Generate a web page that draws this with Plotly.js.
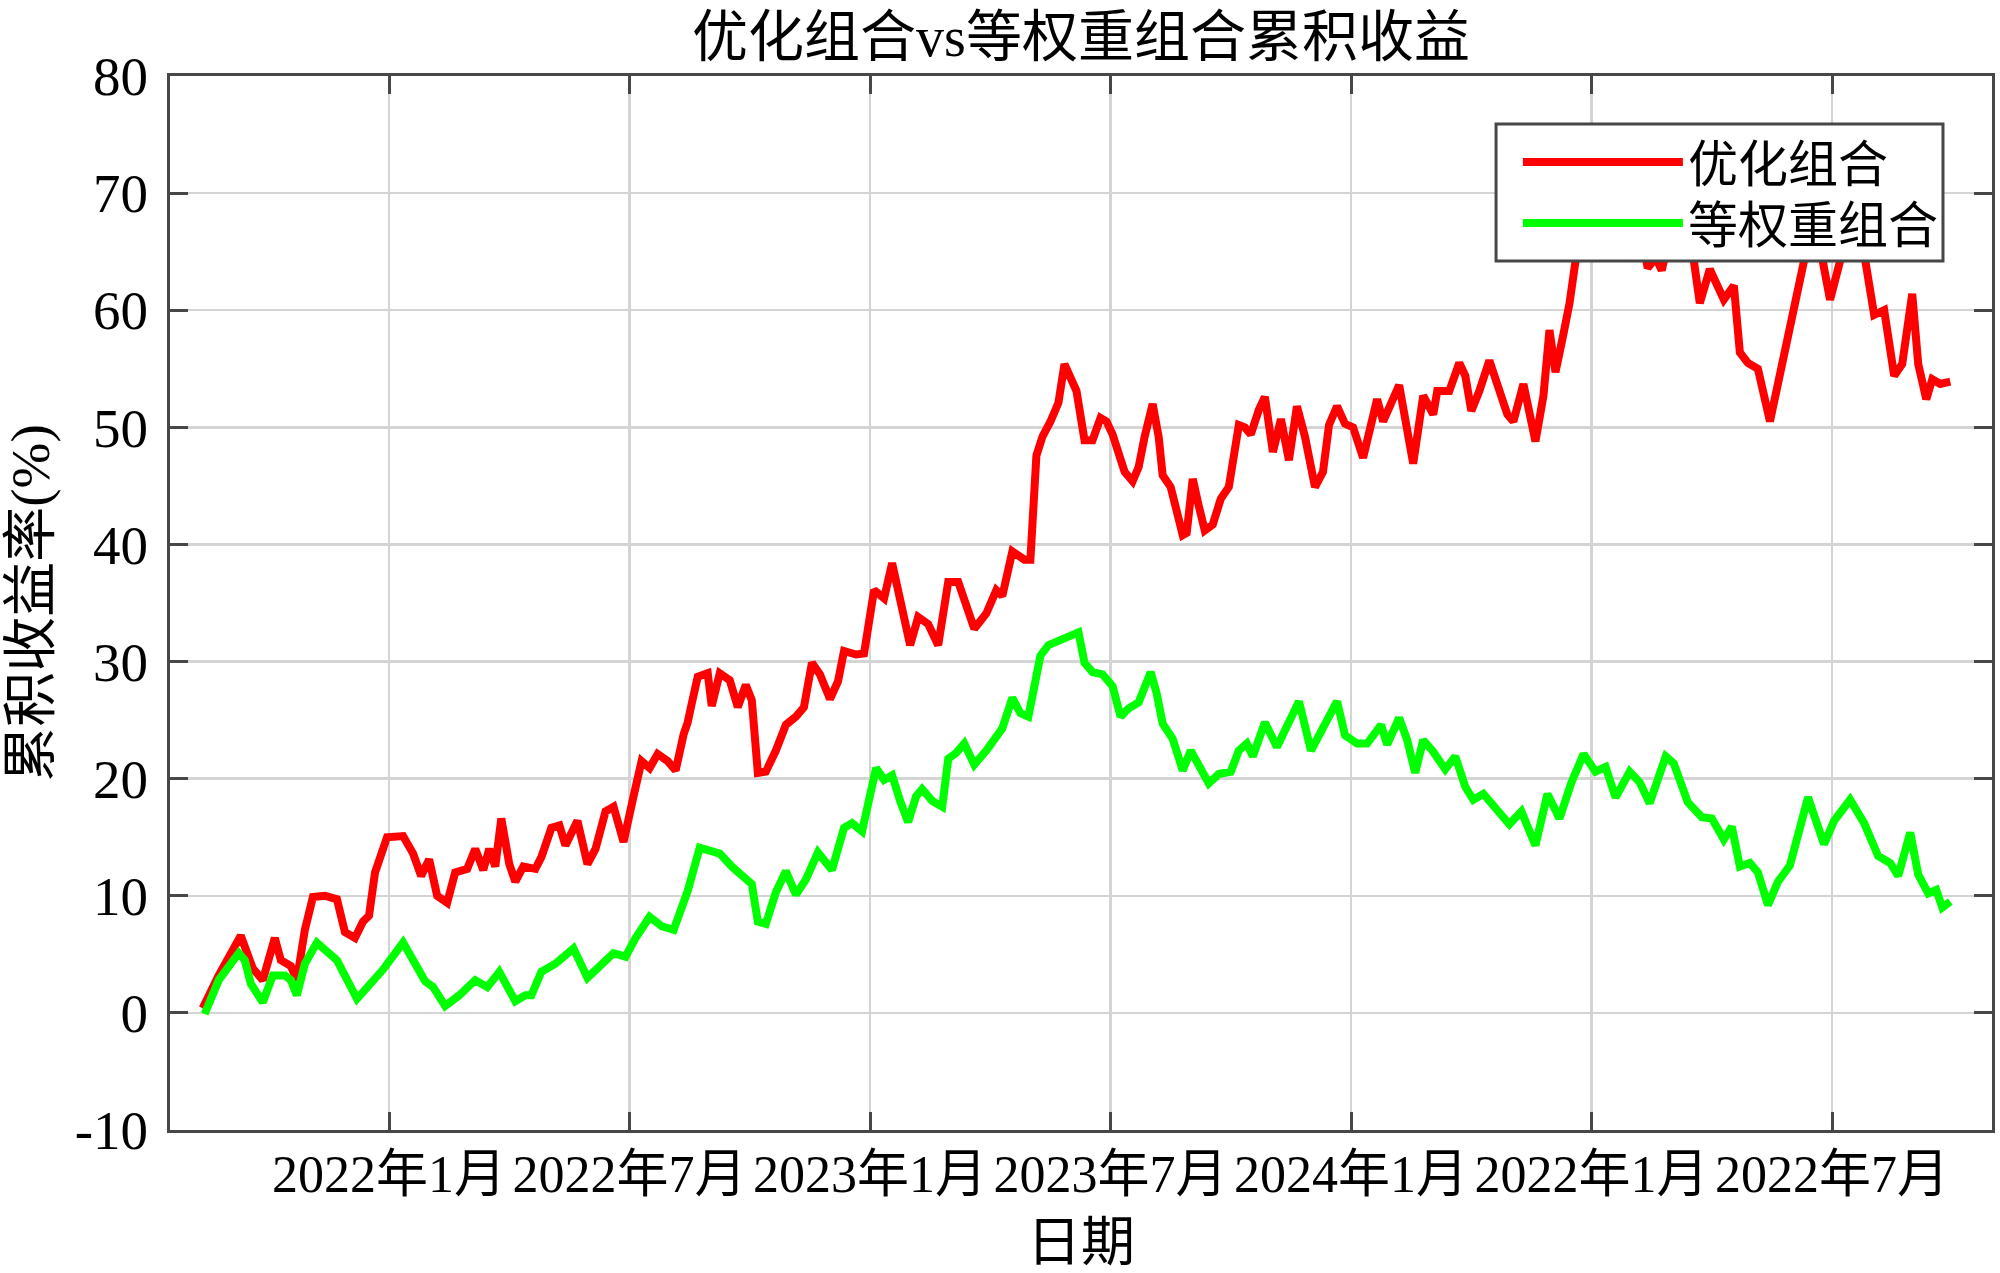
<!DOCTYPE html>
<html>
<head>
<meta charset="utf-8">
<script src="https://cdn.plot.ly/plotly-3.0.1.min.js"></script>
<style>
  html, body { margin: 0; padding: 0; background: #ffffff; }
  #myDiv { width: 2000px; height: 1273px; }
</style>
</head>
<body>
<div id="myDiv"></div>
<script>
// Cumulative return: optimised portfolio vs equal weight portfolio

// x = trading day index, y = cumulative return (%)
const redDays = [1, 9, 20, 22, 26, 31, 37, 40, 45, 48, 52, 56, 62, 68, 72, 77, 81, 84, 87, 93,
    101, 106, 110, 114, 118, 123, 127, 133, 137, 141, 144, 147, 150, 154, 157, 161, 167, 170, 175, 179,
    182, 188, 193, 197, 202, 206, 211, 216, 220, 224, 228, 233, 237, 241, 243, 245, 248, 253, 255, 259,
    264, 268, 272, 275, 278, 282, 287, 292, 297, 301, 305, 309, 314, 318, 321, 327, 331, 336, 341, 345,
    349, 354, 358, 363, 368, 373, 378, 382, 386, 392, 397, 400, 405, 411, 414, 417, 420, 424, 428, 431,
    434, 437, 441, 445, 449, 452, 455, 458, 461, 465, 468, 471, 475, 478, 480, 484, 487, 490, 492, 495,
    498, 501, 505, 509, 513, 518, 521, 524, 528, 531, 535, 539, 543, 547, 551, 556, 560, 563, 567, 571,
    575, 580, 587, 590, 598, 605, 610, 615, 617, 623, 628, 631, 634, 638, 643, 648, 652, 655, 660, 666,
    670, 673, 676, 680, 683, 686, 690, 695, 700, 706, 712, 717, 722, 726, 729, 734, 739, 744, 748, 753,
    760, 765, 768, 772, 777, 783, 788, 792, 796, 800, 805, 809, 813, 818, 823, 827, 831, 835, 840, 845,
    849, 854, 857, 861, 864, 868, 873];
const redReturn = [0.4, 3.2, 6.6, 5.8, 3.8, 2.8, 6.4, 4.5, 4.0, 2.8, 7.1, 9.9, 10.0, 9.7, 6.9, 6.4, 7.8, 8.3, 12.0, 15.0,
    15.1, 13.6, 11.7, 13.1, 10.0, 9.4, 12.0, 12.3, 14.0, 12.2, 14.0, 12.5, 16.6, 12.7, 11.2, 12.5, 12.3, 13.3, 15.8, 16.0,
    14.3, 16.4, 12.7, 14.0, 17.2, 17.6, 14.6, 18.5, 21.5, 20.9, 22.1, 21.5, 20.7, 23.8, 24.8, 26.4, 28.7, 29.0, 26.2, 29.0,
    28.4, 26.1, 28.0, 26.7, 20.5, 20.6, 22.4, 24.6, 25.3, 26.1, 29.9, 28.9, 26.8, 28.3, 30.9, 30.6, 30.7, 36.1, 35.4, 38.4,
    35.4, 31.4, 33.8, 33.2, 31.4, 36.8, 36.8, 34.8, 32.8, 34.1, 36.1, 35.6, 39.4, 38.7, 38.7, 47.6, 49.2, 50.5, 52.1, 55.4,
    54.4, 53.1, 48.9, 48.9, 50.8, 50.5, 49.4, 47.9, 46.2, 45.4, 46.6, 49.2, 52.0, 49.2, 45.9, 44.9, 42.7, 40.8, 41.0, 45.6,
    43.3, 41.2, 41.7, 43.9, 44.9, 50.2, 50.0, 49.4, 51.5, 52.6, 47.9, 50.7, 47.2, 51.8, 49.2, 44.9, 46.2, 50.2, 51.8, 50.3,
    50.0, 47.4, 52.4, 50.5, 53.6, 46.9, 52.7, 51.1, 53.1, 53.1, 55.5, 54.4, 51.4, 53.1, 55.7, 53.4, 51.1, 50.5, 53.7, 48.8,
    52.7, 58.3, 54.7, 58.0, 60.6, 64.2, 67.5, 69.5, 68.0, 70.0, 67.5, 68.5, 63.6, 64.5, 63.4, 67.0, 68.5, 65.5, 60.6, 63.5,
    60.9, 62.1, 56.4, 55.5, 55.0, 50.5, 54.7, 57.7, 61.3, 64.2, 67.0, 64.5, 60.9, 64.5, 67.5, 68.0, 64.2, 59.6, 60.0, 54.4,
    55.4, 61.4, 55.4, 52.4, 54.1, 53.7, 53.9];

const greenDays = [2, 9, 19, 22, 25, 31, 36, 42, 45, 48, 52, 58, 62, 68, 78, 83, 91, 101, 106, 112,
    116, 122, 129, 137, 143, 149, 157, 162, 165, 170, 177, 186, 193, 200, 206, 212, 217, 224, 230, 236,
    243, 249, 254, 259, 265, 272, 275, 278, 282, 287, 292, 297, 302, 308, 315, 321, 325, 330, 334, 337,
    341, 345, 349, 353, 357, 360, 365, 370, 373, 377, 381, 386, 392, 396, 400, 405, 409, 413, 417, 419,
    423, 429, 434, 438, 441, 445, 450, 455, 459, 463, 468, 474, 477, 480, 485, 490, 494, 498, 503, 508,
    514, 518, 522, 525, 531, 537, 542, 548, 554, 560, 567, 571, 577, 582, 589, 592, 598, 602, 606, 610,
    615, 621, 626, 631, 635, 640, 646, 653, 659, 666, 672, 678, 684, 690, 696, 701, 706, 713, 718, 723,
    731, 735, 742, 749, 754, 760, 764, 768, 773, 777, 782, 787, 793, 802, 810, 815, 823, 830, 837, 843,
    847, 853, 857, 862, 866, 869, 873];
const greenReturn = [-0.1, 2.8, 5.1, 4.5, 2.5, 0.9, 3.2, 3.2, 2.8, 1.5, 4.2, 6.0, 5.4, 4.5, 1.2, 2.2, 3.7, 6.0, 4.5, 2.7,
    2.2, 0.6, 1.5, 2.8, 2.2, 3.5, 1.0, 1.5, 1.5, 3.5, 4.2, 5.5, 3.0, 4.2, 5.1, 4.8, 6.4, 8.2, 7.4, 7.1,
    10.4, 14.1, 13.8, 13.6, 12.5, 11.5, 11.0, 7.8, 7.6, 10.3, 12.1, 10.1, 11.4, 13.7, 12.2, 15.8, 16.2, 15.5, 18.8, 20.9,
    19.9, 20.3, 18.1, 16.3, 18.5, 19.1, 18.1, 17.6, 21.7, 22.2, 23.0, 21.2, 22.4, 23.5, 24.3, 26.9, 25.6, 25.3, 28.9, 30.5,
    31.4, 31.9, 32.3, 32.5, 29.9, 29.1, 28.9, 27.9, 25.3, 26.0, 26.5, 29.1, 27.3, 24.7, 23.4, 20.7, 22.4, 21.1, 19.6, 20.4,
    20.6, 22.4, 23.0, 21.9, 24.8, 22.7, 24.5, 26.6, 22.4, 24.3, 26.6, 23.7, 23.0, 23.0, 24.6, 22.9, 25.2, 23.3, 20.5, 23.3,
    22.3, 20.8, 21.9, 19.3, 18.2, 18.7, 17.4, 16.1, 17.2, 14.3, 18.7, 16.6, 19.7, 22.1, 20.6, 21.0, 18.4, 20.6, 19.7, 17.9,
    21.9, 21.3, 18.0, 16.7, 16.6, 14.8, 15.9, 12.5, 12.8, 12.0, 9.2, 11.2, 12.6, 18.4, 14.4, 16.4, 18.2, 16.2, 13.4, 12.8,
    11.7, 15.4, 11.8, 10.2, 10.5, 9.0, 9.5];

// tick positions (trading day) and their labels, as printed in the original
const tickDays = [94, 214, 334, 454, 574, 694, 814];
const tickLabels = ['2022年1月', '2022年7月', '2023年1月', '2023年7月', '2024年1月', '2022年1月', '2022年7月'];
const yTicks = [-10, 0, 10, 20, 30, 40, 50, 60, 70, 80];
const yTickLabels = ['-10', '0', '10', '20', '30', '40', '50', '60', '70', '80'];

const seriesNames = ['优化组合', '等权重组合'];

const serif = '"Liberation Serif", "Times New Roman", "Noto Sans CJK SC", serif';
const axisColor = '#474747';
const gridColor = '#d4d4d4';

let trace1 = {
    x: redDays,
    y: redReturn,
    name: seriesNames[0],
    legend: 'legend',
    mode: 'lines',
    line: { color: '#ff0000', width: 8 }
};

let trace2 = {
    x: greenDays,
    y: greenReturn,
    name: seriesNames[1],
    legend: 'legend2',
    mode: 'lines',
    line: { color: '#00ff00', width: 8 }
};

// one legend per row so the rows sit where the original has them
const legendBase = {
    xanchor: 'left',
    yanchor: 'top',
    bgcolor: 'rgba(0,0,0,0)',
    borderwidth: 0,
    itemwidth: 160,
    font: { family: serif, size: 50, color: '#000000' }
};

let layout = {
    width: 2000,
    height: 1273,
    margin: { l: 170, r: 8, t: 76, b: 143 },
    paper_bgcolor: '#ffffff',
    plot_bgcolor: '#ffffff',
    font: { family: serif, size: 52, color: '#000000' },
    title: {
        text: '优化组合vs等权重组合累积收益',
        font: { family: serif, size: 56, color: '#000000' },
        x: 0.5,
        xref: 'paper',
        y: 1 - 36 / 1273,
        yref: 'container',
        yanchor: 'middle'
    },
    showlegend: true,
    legend: Object.assign({ x: 0.7398, y: 0.9554 }, legendBase),
    legend2: Object.assign({ x: 0.7398, y: 0.8975 }, legendBase),
    // legend frame, white so it hides the lines behind it
    shapes: [{
        type: 'rect',
        xref: 'paper',
        yref: 'paper',
        x0: 0.7278,
        x1: 0.9731,
        y0: 0.8245,
        y1: 0.9545,
        fillcolor: '#ffffff',
        line: { color: axisColor, width: 3 },
        layer: 'above'
    }],
    xaxis: {
        range: [-15.3, 893.8],
        tickmode: 'array',
        tickvals: tickDays,
        ticktext: tickLabels,
        tickangle: 0,
        ticks: 'inside',
        ticklen: 18,
        tickwidth: 3,
        tickcolor: axisColor,
        ticklabelstandoff: -3,
        showline: true,
        linecolor: axisColor,
        linewidth: 3,
        mirror: 'ticks',
        showgrid: true,
        gridcolor: gridColor,
        gridwidth: 2.5,
        zeroline: false,
        tickfont: { family: serif, size: 52, color: '#000000' },
        title: {
            text: '日期',
            font: { family: serif, size: 54, color: '#000000' },
            standoff: 40
        }
    },
    yaxis: {
        range: [-10, 80],
        tickmode: 'array',
        tickvals: yTicks,
        ticktext: yTickLabels,
        ticks: 'inside',
        ticklen: 18,
        tickwidth: 3,
        tickcolor: axisColor,
        ticklabelstandoff: 8,
        showline: true,
        linecolor: axisColor,
        linewidth: 3,
        mirror: 'ticks',
        showgrid: true,
        gridcolor: gridColor,
        gridwidth: 2.5,
        zeroline: false,
        tickfont: { family: serif, size: 55, color: '#000000' },
        title: {
            text: '累积收益率(%)',
            font: { family: serif, size: 55, color: '#000000' },
            standoff: 14
        }
    }
};

Plotly.newPlot('myDiv', [trace1, trace2], layout, { staticPlot: true, displayModeBar: false });
</script>
</body>
</html>
